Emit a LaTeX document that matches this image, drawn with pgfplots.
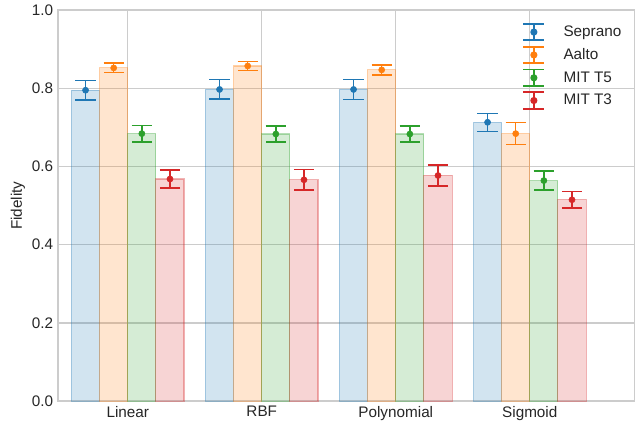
\documentclass[border=0pt]{standalone}
\usepackage{pgfplots}
\pgfplotsset{compat=1.18}
\usepackage{pgfplotstable}
\usepackage{fontspec}
\setmainfont{Liberation Sans}
\definecolor{cB}{HTML}{1F77B4}
\definecolor{cO}{HTML}{FF7F0E}
\definecolor{cG}{HTML}{2CA02C}
\definecolor{cR}{HTML}{D62728}
\definecolor{gridc}{HTML}{CCCCCC}
\definecolor{txt}{HTML}{262626}

% x: 0 Linear, 1 RBF, 2 Polynomial, 3 Sigmoid
\pgfplotstableread{
x y e
0 0.795 0.025
1 0.797 0.025
2 0.797 0.026
3 0.713 0.023
}\seprano
\pgfplotstableread{
x y e
0 0.852 0.012
1 0.857 0.012
2 0.847 0.013
3 0.684 0.028
}\aalto
\pgfplotstableread{
x y e
0 0.684 0.021
1 0.683 0.021
2 0.683 0.021
3 0.564 0.024
}\mitfive
\pgfplotstableread{
x y e
0 0.568 0.023
1 0.566 0.026
2 0.577 0.027
3 0.515 0.021
}\mitthree

\newcommand{\ebleg}[1]{\addlegendimage{#1, line width=1.3pt, legend image code/.code={
  \path[draw=none,fill=none] (0cm,0cm) -- (0.93cm,0cm);
  \draw[color=#1,line width=1.3pt] (0.25cm,-0.21cm)--(0.25cm,0.21cm);
  \draw[color=#1,line width=1.3pt] (-0.015cm,0.21cm)--(0.515cm,0.21cm);
  \draw[color=#1,line width=1.3pt] (-0.015cm,-0.21cm)--(0.515cm,-0.21cm);
  \path[fill=#1,draw=none] (0.25cm,0cm) circle (2.6pt);}}}

\begin{document}
\begin{tikzpicture}
\begin{axis}[
  scale only axis,
  width=414.7pt, height=281.5pt,
  xmin=-0.52, xmax=3.78,
  ymin=0, ymax=1.0,
  xtick={0,1,2,3},
  xticklabels={Linear,RBF,Polynomial,Sigmoid},
  ytick={0,0.2,0.4,0.6,0.8,1.0},
  yticklabel style={/pgf/number format/fixed, /pgf/number format/fixed zerofill, /pgf/number format/precision=1},
  /pgf/number format/assume math mode=true,
  tick style={draw=none},
  grid=major,
  major grid style={gridc, line width=0.8pt},
  axis line style={gridc, line width=1pt},
  tick label style={font=\fontsize{11}{13}\selectfont, text=txt},
  label style={font=\fontsize{11}{13}\selectfont, text=txt},
  ylabel={Fidelity},
  ylabel style={yshift=-2pt},
  legend style={at={(0.99,0.975)}, anchor=north east, draw=none, fill=none,
    font=\fontsize{11}{13}\selectfont, text=txt, row sep=3.1pt,
    legend cell align=left},
]
\coordinate (ll) at (rel axis cs:0,0);
\coordinate (ur) at (rel axis cs:1,1);
% bars
\addplot[ybar, bar width=0.21, bar shift=-0.315, fill=cB, fill opacity=0.2, draw=cB, draw opacity=0.35, line width=0.8pt, forget plot] table[x=x,y=y] {\seprano};
\addplot[ybar, bar width=0.21, bar shift=-0.105, fill=cO, fill opacity=0.2, draw=cO, draw opacity=0.35, line width=0.8pt, forget plot] table[x=x,y=y] {\aalto};
\addplot[ybar, bar width=0.21, bar shift=0.105, fill=cG, fill opacity=0.2, draw=cG, draw opacity=0.35, line width=0.8pt, forget plot] table[x=x,y=y] {\mitfive};
\addplot[ybar, bar width=0.21, bar shift=0.315, fill=cR, fill opacity=0.2, draw=cR, draw opacity=0.35, line width=0.8pt, forget plot] table[x=x,y=y] {\mitthree};
% error bars with points
\pgfplotsset{ebstyle/.style={only marks, mark=*, mark size=2.2pt, color=#1, forget plot,
  error bars/.cd, y dir=both, y explicit,
  error bar style={#1, line width=1.1pt},
  error mark options={rotate=90, mark size=7.3pt, line width=1.1pt, #1}}}
\addplot[ebstyle=cB] table[x expr=\thisrow{x}-0.315, y=y, y error=e] {\seprano};
\addplot[ebstyle=cO] table[x expr=\thisrow{x}-0.105, y=y, y error=e] {\aalto};
\addplot[ebstyle=cG] table[x expr=\thisrow{x}+0.105, y=y, y error=e] {\mitfive};
\addplot[ebstyle=cR] table[x expr=\thisrow{x}+0.315, y=y, y error=e] {\mitthree};
\ebleg{cB}\addlegendentry{Seprano}
\ebleg{cO}\addlegendentry{Aalto}
\ebleg{cG}\addlegendentry{MIT T5}
\ebleg{cR}\addlegendentry{MIT T3}
\end{axis}
\path[use as bounding box] ([shift={(-41.8pt,-16.6pt)}]ll) rectangle ([shift={(0pt,7.2pt)}]ur);
\end{tikzpicture}
\end{document}
